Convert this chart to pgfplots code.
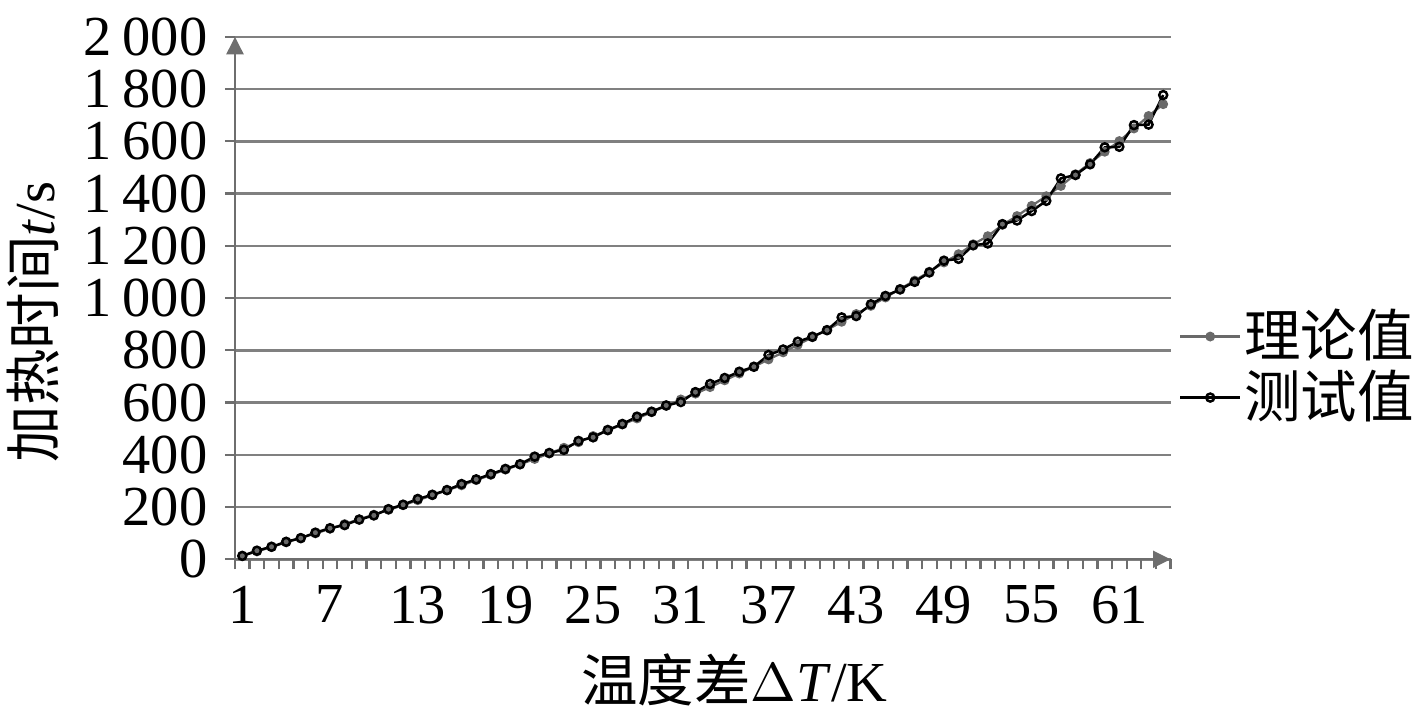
\documentclass[border=0pt]{standalone}
\usepackage{fontspec}
\setmainfont{Liberation Serif}
\newfontfamily\cjk{Noto Sans CJK SC}
\usepackage{pgfplots}
\pgfplotsset{compat=1.18}
\usetikzlibrary{arrows.meta}
\definecolor{gridgray}{RGB}{128,128,128}
\definecolor{axgray}{RGB}{110,110,110}
\definecolor{theogray}{RGB}{105,105,105}
\newcommand{\fs}{\fontsize{11.3}{13}\selectfont}
\begin{document}
\begin{tikzpicture}
\useasboundingbox (-47pt,-29.94pt) rectangle (236.4pt,111.86pt);
\begin{axis}[
  at={(0,0)}, anchor=south west,
  width=187.1pt, height=104.5pt, scale only axis,
  xmin=0.5, xmax=64.5, ymin=0, ymax=2000,
  axis lines=left,
  axis line style={draw=axgray, line width=0.45pt, -{Triangle[length=3.5pt,width=3.4pt]}},
  xtick={1,7,...,61},
  minor xtick={0.5,1.5,...,64.5},
  ytick={0,200,...,2000},
  tick align=outside,
  major tick length=2pt,
  minor tick length=2pt,
  xtick style={draw=none},
  minor x tick style={draw=axgray, line width=0.45pt},
  y tick style={draw=axgray, line width=0.45pt},
  ymajorgrids,
  grid style={draw=gridgray, line width=0.5pt},
  /pgf/number format/assume math mode=true,
  /pgf/number format/1000 sep={\hspace{0.2em}},
  every tick label/.append style={font=\fs},
  x tick label style={yshift=0.2pt},
  clip=false,
  xlabel={{\cjk 温度差}$\Delta$\textit{T}/K},
  every axis x label/.style={at={(axis description cs:0.534,-0.231)}, anchor=center, font=\fs},
  ylabel={{\cjk 加热时间}\textit{t}/s},
  every axis y label/.style={at={(axis description cs:-0.2159,0.454)}, anchor=center, rotate=90, font=\fs},
  legend style={at={(axis description cs:1.008,0.368)}, anchor=west, draw=none, fill=none,
    font=\fs\cjk, row sep=0pt, inner sep=0pt, nodes={inner sep=0.6pt, anchor=west}},
  legend cell align=left,
  legend image code/.code={\draw[mark repeat=2,mark phase=2,#1] plot coordinates {(0pt,0pt) (6pt,0pt) (12pt,0pt)};},
]
\addplot[color=theogray, line width=0.45pt, mark=*, mark size=0.75pt, mark options={fill=theogray, draw=theogray, solid}] coordinates {
(1,13)(2,30)(3,47)(4,65)(5,82)(6,99)(7,117)(8,135)(9,153)(10,171)
(11,189)(12,207)(13,226)(14,245)(15,264)(16,283)(17,303)(18,323)(19,343)(20,363)
(21,384)(22,405)(23,427)(24,448)(25,472)(26,493)(27,516)(28,539)(29,563)(30,587)
(31,612)(32,634)(33,659)(34,685)(35,711)(36,737)(37,765)(38,792)(39,821)(40,850)
(41,878)(42,909)(43,939)(44,970)(45,1002)(46,1035)(47,1067)(48,1101)(49,1136)(50,1168)
(51,1206)(52,1237)(53,1280)(54,1314)(55,1353)(56,1390)(57,1429)(58,1474)(59,1517)(60,1560)
(61,1601)(62,1649)(63,1697)(64,1742)
};
\addlegendentry{理论值}
\addplot[color=black, line width=0.5pt, mark=o, mark size=0.8pt, mark options={fill=white, draw=black, line width=0.5pt, solid}] coordinates {
(1,13)(2,33)(3,48)(4,67)(5,81)(6,102)(7,119)(8,131)(9,152)(10,168)
(11,192)(12,209)(13,231)(14,247)(15,265)(16,288)(17,306)(18,326)(19,346)(20,364)
(21,393)(22,407)(23,419)(24,453)(25,467)(26,495)(27,518)(28,546)(29,565)(30,589)
(31,602)(32,640)(33,671)(34,694)(35,718)(36,737)(37,782)(38,803)(39,833)(40,852)
(41,877)(42,926)(43,931)(44,976)(45,1008)(46,1033)(47,1062)(48,1098)(49,1143)(50,1150)
(51,1202)(52,1209)(53,1283)(54,1297)(55,1333)(56,1372)(57,1458)(58,1471)(59,1512)(60,1577)
(61,1579)(62,1662)(63,1664)(64,1777)
};
\addlegendentry{测试值}
\end{axis}
\end{tikzpicture}
\end{document}
